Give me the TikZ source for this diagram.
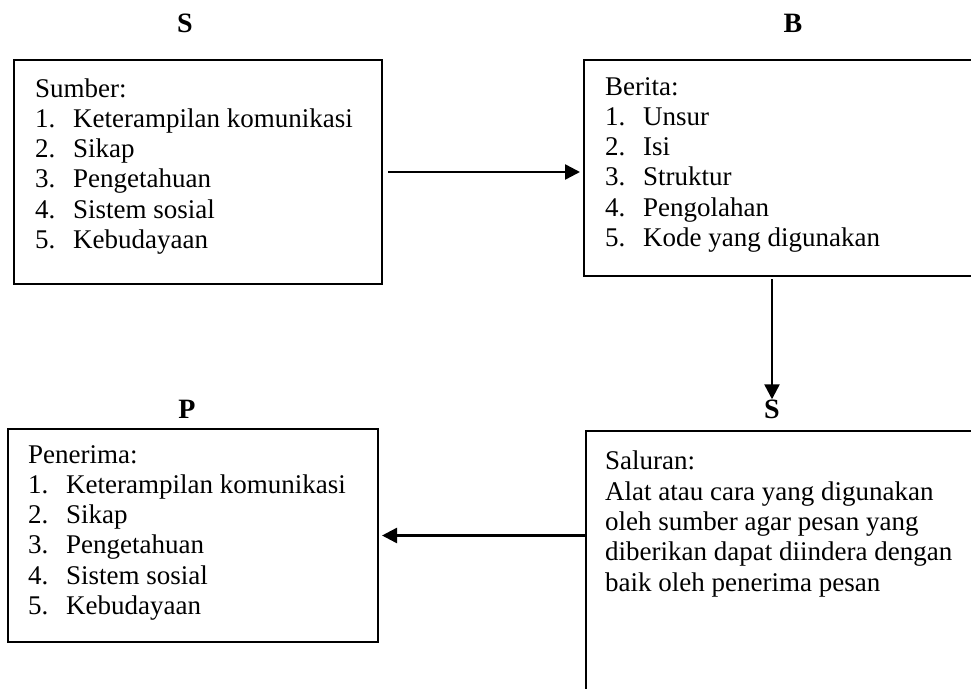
\documentclass[tikz,border=0pt]{standalone}
\usepackage{fontspec}
\setmainfont{Liberation Serif}
\usetikzlibrary{arrows.meta}
\tikzset{
  panel/.style={draw=black, line width=1.4pt, inner sep=0pt, outer sep=0pt, anchor=north west},
  % the base anchor of a multi-line node sits on its last line
  body/.style={anchor=base west, inner sep=0pt, align=left,
    font=\fontsize{27}{30.3}\selectfont},
  head/.style={anchor=base, inner sep=0pt, font=\fontsize{28}{30}\selectfont\bfseries},
  flow/.style={line width=2.5pt, -{Triangle[length=15pt,width=15pt]}},
}
\newcommand{\itm}[1]{\makebox[38pt][l]{#1}}
\begin{document}
\begin{tikzpicture}[x=1pt,y=-1pt]
\useasboundingbox (0,0) rectangle (971,688);
\clip (0,0) rectangle (971,688);

% boxes
\node[panel, minimum width=368pt, minimum height=224pt] (sumber) at (14,60) {};
\node[panel, minimum width=420pt, minimum height=216pt] (berita) at (584,60) {};
\node[panel, minimum width=370pt, minimum height=213pt] (penerima) at (8,429) {};
\node[panel, minimum width=420pt, minimum height=300pt] (saluran) at (586,431) {};

% headings
\node[head] (hS) at (185,32) {S};
\node[head] (hB) at (793,32) {B};
\node[head] (hP) at (187,418) {P};
\node[head] (hS2) at (772,418) {S};

% box texts
\node[body] (tSumber) at (35,248.5) {Sumber:\\
\itm{1.}Keterampilan komunikasi\\
\itm{2.}Sikap\\
\itm{3.}Pengetahuan\\
\itm{4.}Sistem sosial\\
\itm{5.}Kebudayaan};

\node[body] (tBerita) at (605,246.5) {Berita:\\
\itm{1.}Unsur\\
\itm{2.}Isi\\
\itm{3.}Struktur\\
\itm{4.}Pengolahan\\
\itm{5.}Kode yang digunakan};

\node[body] (tPenerima) at (28,614.5) {Penerima:\\
\itm{1.}Keterampilan komunikasi\\
\itm{2.}Sikap\\
\itm{3.}Pengetahuan\\
\itm{4.}Sistem sosial\\
\itm{5.}Kebudayaan};

\node[body] (tSaluran) at (605,591) {Saluran:\\
Alat atau cara yang digunakan\\
oleh sumber agar pesan yang\\
diberikan dapat diindera dengan\\
baik oleh penerima pesan};

% connectors
\draw[flow, shorten <=6pt, shorten >=4pt] (sumber.east) -- (sumber.east -| berita.west);
\draw[flow, shorten <=3pt] (hS2 |- berita.south) -- (hS2.north);
\draw[flow, shorten >=4pt] (saluran.west |- penerima.east) -- (penerima.east);
\end{tikzpicture}
\end{document}
